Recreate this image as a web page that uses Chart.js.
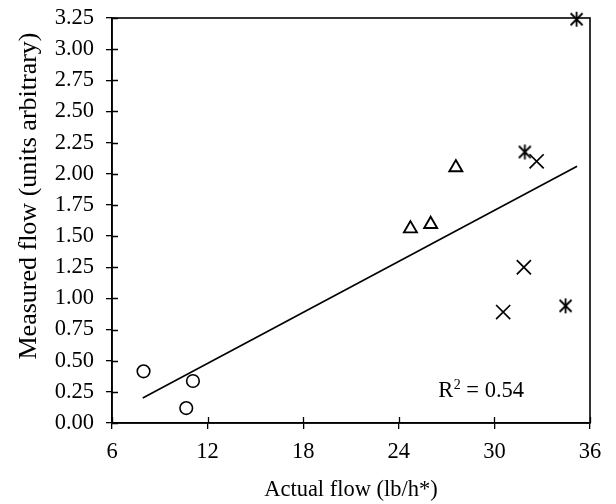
<!DOCTYPE html>
<html>
<head>
<meta charset="utf-8">
<script src="https://cdn.jsdelivr.net/npm/chart.js@4.4.1/dist/chart.umd.min.js"></script>
<style>
  html, body { margin: 0; padding: 0; background: #fff; }
  #wrap { width: 616px; height: 504px; position: relative; }
</style>
</head>
<body>
<div id="wrap"><canvas id="c" width="616" height="504"></canvas></div>
<script>
// ---- Data ----
const xTicks = [6, 12, 18, 24, 30, 36];
const yTicks = [0, 0.25, 0.5, 0.75, 1, 1.25, 1.5, 1.75, 2, 2.25, 2.5, 2.75, 3, 3.25];

const circleX = [7.98, 11.08, 10.66];
const circleY = [0.415, 0.337, 0.12];

const triangleX = [27.58, 24.73, 26.0];
const triangleY = [2.05, 1.56, 1.595];

const crossX = [32.65, 31.85, 30.55];
const crossY = [2.10, 1.25, 0.89];

const starX = [35.16, 31.91, 34.47];
const starY = [3.24, 2.175, 0.94];

const trendX = [7.93, 35.19];
const trendY = [0.20, 2.06];

const xTitle = 'Actual flow (lb/h*)';
const yTitle = 'Measured flow (units arbitrary)';
const r2Base = 'R';
const r2Sup = '2';
const r2Rest = ' = 0.54';

const FONT = '"Liberation Serif", "Times New Roman", serif';
const FS = 22.5;

function pts(xs, ys) { return xs.map((x, i) => ({ x: x, y: ys[i] })); }

// Asterisk marker (X with vertical bar), as in the reference
function makeAsterisk(size) {
  const c = document.createElement('canvas');
  c.width = size; c.height = size;
  const g = c.getContext('2d');
  const h = size / 2, r = size / 2 - 1;
  g.strokeStyle = '#000'; g.lineWidth = 1.8;
  g.beginPath();
  g.moveTo(h - r * 0.8, h - r * 0.8); g.lineTo(h + r * 0.8, h + r * 0.8);
  g.moveTo(h + r * 0.8, h - r * 0.8); g.lineTo(h - r * 0.8, h + r * 0.8);
  g.moveTo(h, h - r); g.lineTo(h, h + r);
  g.stroke();
  return c;
}
const asterisk = makeAsterisk(17);

const frame = {
  id: 'frame',
  afterDraw(chart) {
    const ctx = chart.ctx, a = chart.chartArea;
    const xs = chart.scales.x, ys = chart.scales.y;
    ctx.save();
    ctx.strokeStyle = '#000';
    ctx.lineWidth = 1.6;
    ctx.strokeRect(a.left, a.top, a.right - a.left, a.bottom - a.top);
    // inner halves of the cross tick marks
    ctx.beginPath();
    yTicks.forEach(v => {
      const p = Math.round(ys.getPixelForValue(v)) + 0.5;
      ctx.moveTo(a.left, p); ctx.lineTo(a.left + 6, p);
    });
    xTicks.forEach(v => {
      const p = Math.round(xs.getPixelForValue(v)) + 0.5;
      ctx.moveTo(p, a.bottom); ctx.lineTo(p, a.bottom - 6);
    });
    ctx.lineWidth = 1.3;
    ctx.stroke();
    // R² label
    ctx.fillStyle = '#000';
    ctx.textBaseline = 'alphabetic';
    ctx.textAlign = 'left';
    const big = FS + 'px ' + FONT, small = Math.round(FS * 0.62) + 'px ' + FONT;
    ctx.font = big; const w1 = ctx.measureText(r2Base).width, w3 = ctx.measureText(r2Rest).width;
    ctx.font = small; const w2 = ctx.measureText(r2Sup).width;
    const cx = xs.getPixelForValue(29.15), base = ys.getPixelForValue(0.27) + 8;
    let x0 = cx - (w1 + w2 + w3) / 2;
    ctx.font = big; ctx.fillText(r2Base, x0, base);
    ctx.font = small; ctx.fillText(r2Sup, x0 + w1 + 0.5, base - 8);
    ctx.font = big; ctx.fillText(r2Rest, x0 + w1 + w2 + 0.5, base);
    // y title
    ctx.font = '26px ' + FONT;
    ctx.textAlign = 'center';
    ctx.textBaseline = 'middle';
    ctx.translate(29, 196);
    ctx.rotate(-Math.PI / 2);
    ctx.fillText(yTitle, 0, 0);
    ctx.restore();
  }
};

new Chart(document.getElementById('c'), {
  type: 'scatter',
  data: {
    datasets: [
      { data: pts(circleX, circleY), pointStyle: 'circle', pointRadius: 6.3, borderColor: '#000', borderWidth: 1.6, backgroundColor: 'rgba(0,0,0,0)' },
      { data: pts(triangleX, triangleY), pointStyle: 'triangle', pointRadius: 7.5, borderColor: '#000', borderWidth: 1.9, backgroundColor: 'rgba(0,0,0,0)' },
      { data: pts(crossX, crossY), pointStyle: 'crossRot', pointRadius: 10, borderColor: '#000', borderWidth: 1.7 },
      { data: pts(starX, starY), pointStyle: asterisk, pointRadius: 8, clip: false },
      { type: 'line', data: pts(trendX, trendY), borderColor: '#000', borderWidth: 1.6, pointRadius: 0, fill: false, showLine: true }
    ]
  },
  options: {
    responsive: false,
    animation: false,
    events: [],
    layout: { padding: { left: 0, right: 26, top: 18, bottom: 0 } },
    plugins: { legend: { display: false }, tooltip: { enabled: false } },
    scales: {
      x: {
        type: 'linear', min: 6, max: 36,
        afterBuildTicks(s) { s.ticks = xTicks.map(v => ({ value: v })); },
        afterFit(s) { s.height = 81; s.paddingLeft = 0; s.paddingRight = 0; },
        grid: { display: true, drawOnChartArea: false, drawTicks: true, tickLength: 6, color: '#000', lineWidth: 1.3 },
        border: { display: true, color: '#000', width: 1.6 },
        ticks: { color: '#000', font: { family: FONT, size: FS }, padding: 10, maxRotation: 0, autoSkip: false },
        title: { display: true, text: xTitle, color: '#000', font: { family: FONT, size: FS }, padding: { top: 2, bottom: 0 } }
      },
      y: {
        type: 'linear', min: 0, max: 3.25,
        afterBuildTicks(s) { s.ticks = yTicks.map(v => ({ value: v })); },
        afterFit(s) { s.width = 112; s.paddingTop = 0; s.paddingBottom = 0; },
        grid: { display: true, drawOnChartArea: false, drawTicks: true, tickLength: 6, color: '#000', lineWidth: 1.3 },
        border: { display: true, color: '#000', width: 1.6 },
        ticks: { color: '#000', font: { family: FONT, size: FS }, padding: 12, autoSkip: false, callback: v => Number(v).toFixed(2) }
      }
    }
  },
  plugins: [frame]
});
</script>
</body>
</html>
